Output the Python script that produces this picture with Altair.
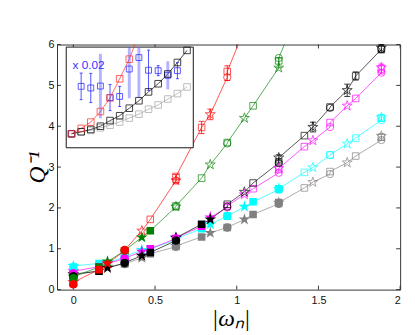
import altair as alt
import pandas as pd
import numpy as np

# ---------------- main panel data ----------------
# Matsubara frequencies for three temperatures (squares, stars, circles)
X_SQ = [0.0, 0.157, 0.314, 0.471, 0.628, 0.785, 0.942, 1.100, 1.257, 1.414, 1.571, 1.728, 1.885]
X_ST = [0.0, 0.209, 0.419, 0.628, 0.838, 1.047, 1.257, 1.466, 1.676, 1.885]
X_CI = [0.0, 0.314, 0.628, 0.942, 1.257, 1.571, 1.885]

SERIES = ["gray", "cyan", "magenta", "black", "green", "red"]          # drawing order
COLORS = ["#808080", "#00ffff", "#ff00ff", "#000000", "#008000", "#ff0000"]
FILLED_BELOW = [1.3, 1.3, 0.9, 0.9, 0.5, 0.35]                          # filled markers below this |w_n|

GRAY_SQ = [0.33, 0.47, 0.63, 0.88, 1.07, 1.29, 1.52, 1.84, 2.13, 2.49, 2.89, 3.27, 3.73]
GRAY_ST = [0.35, 0.56, 0.78, 1.07, 1.39, 1.72, 2.13, 2.63, 3.11, 3.76]
GRAY_CI = [0.30, 0.63, 1.05, 1.52, 2.10, 2.83, 3.66]

CYAN_SQ = [0.55, 0.64, 0.80, 1.00, 1.22, 1.49, 1.80, 2.15, 2.47, 2.87, 3.30, 3.71, 4.20]
CYAN_ST = [0.58, 0.66, 0.97, 1.25, 1.60, 2.03, 2.47, 2.99, 3.57, 4.22]
CYAN_CI = [0.52, 0.81, 1.22, 1.80, 2.45, 3.29, 4.15]

MAGENTA_SQ = [0.42, 0.56, 0.76, 1.00, 1.25, 1.55, 2.05, 2.47, 2.94, 3.50, 4.09, 4.68, 5.40]
MAGENTA_ST = [0.45, 0.64, 0.93, 1.27, 1.77, 2.33, 2.97, 3.65, 4.50, 5.44]
MAGENTA_CI = [0.40, 0.77, 1.25, 2.01, 2.86, 3.98, 5.31]

BLACK_SQ = [0.35, 0.45, 0.66, 0.91, 1.21, 1.60, 2.09, 2.61, 3.13, 3.77, 4.47, 5.23, 5.88]
BLACK_ST = [0.38, 0.53, 0.83, 1.27, 1.72, 2.39, 3.23, 3.98, 4.88, 5.92]
BLACK_CI = [0.33, 0.65, 1.20, 2.03, 3.10, 4.45, 5.90]

GREEN_SQ = [0.30, 0.55, 0.95, 1.44, 2.05, 2.73, 3.60, 4.50, 5.60, 7.20, None, None, None]
GREEN_ST = [0.32, 0.69, 1.28, 2.03, 3.06, 4.20, 5.43, None, None, None]
GREEN_CI = [0.28, 0.96, 2.03, 3.58, 5.67, None, None]

RED_SQ = [0.15, 0.49, 0.95, 1.72, 2.77, 3.97, 5.34, 6.90, None, None, None, None, None]
RED_ST = [0.18, 0.64, 1.44, 2.67, 4.29, None, None, None, None, None]
RED_CI = [0.13, 0.97, 2.67, 5.20, None, None, None]

# error bars on selected points
ERR_SERIES = ["red", "red", "red", "red", "green", "black", "black", "black", "black", "black", "magenta", "cyan", "gray"]
ERR_X = [0.628, 0.785, 0.838, 0.942, 1.257, 1.257, 1.466, 1.676, 1.728, 1.885, 1.885, 1.885, 1.885]
ERR_Y = [2.72, 3.97, 4.29, 5.30, 5.55, 3.20, 3.98, 4.88, 5.23, 5.90, 5.40, 4.20, 3.73]
ERR_E = [0.10, 0.15, 0.13, 0.18, 0.12, 0.10, 0.12, 0.15, 0.10, 0.10, 0.12, 0.08, 0.08]

X_TICKS = [0, 0.5, 1, 1.5, 2]
Y_TICKS = [0, 1, 2, 3, 4, 5, 6]

# ---------------- inset data ----------------
IN_X = list(range(13))
IN_BLACK = [1.39, 1.59, 1.82, 2.14, 2.70, 3.18, 3.93, 4.67, 5.55, 6.36, 7.33, 8.47, 9.67]
IN_GRAY = [1.39, 1.59, 1.72, 1.98, 2.24, 2.56, 2.95, 3.34, 3.83, 4.25, 4.84, 5.38, 6.04]
IN_RED = [1.39, 1.92, 2.55, 3.60, 4.95, 6.85, 8.80, 11.3]

B1_X = [0, 1, 2, 4, 5, 8, 9, 11]
B1_Y = [1.39, 6.10, 5.94, 4.99, 5.10, 7.70, 7.66, 7.66]
B1_E = [0.0, 1.32, 1.45, 1.30, 1.00, 2.00, 0.50, 0.80]
B2_X = [3, 6, 7, 10]
B2_Y = [6.13, 7.82, 8.96, 7.20]
B2_E = [3.20, 2.90, 4.00, 1.40]
INSET_NOTE = "x 0.02"

STAR = ("M0,-1L0.225,-0.309L0.951,-0.309L0.363,0.118L0.588,0.809L0,0.382"
        "L-0.588,0.809L-0.363,0.118L-0.951,-0.309L-0.225,-0.309Z")

# ---------------- build tables ----------------
lists = {
    "gray": (GRAY_SQ, GRAY_ST, GRAY_CI),
    "cyan": (CYAN_SQ, CYAN_ST, CYAN_CI),
    "magenta": (MAGENTA_SQ, MAGENTA_ST, MAGENTA_CI),
    "black": (BLACK_SQ, BLACK_ST, BLACK_CI),
    "green": (GREEN_SQ, GREEN_ST, GREEN_CI),
    "red": (RED_SQ, RED_ST, RED_CI),
}
rows = []
for s, cut in zip(SERIES, FILLED_BELOW):
    for shape, xs, ys in zip(["sq", "st", "ci"], [X_SQ, X_ST, X_CI], lists[s]):
        for xv, yv in zip(xs, ys):
            if yv is None:
                continue
            rows.append({"series": s, "shape": shape, "x": xv, "y": yv, "filled": bool(xv < cut)})
df = pd.DataFrame(rows)
df = df.sort_values(["series", "x", "y"]).reset_index(drop=True)
df["ord"] = np.arange(len(df))
order_map = {s: i for i, s in enumerate(SERIES)}
df["z"] = df["series"].map(order_map)
df = df.sort_values(["z", "x"]).reset_index(drop=True)

err = pd.DataFrame({"series": ERR_SERIES, "x": ERR_X, "y": ERR_Y, "e": ERR_E})
err["lo"] = err["y"] - err["e"]
err["hi"] = err["y"] + err["e"]
caps = pd.concat([err.assign(y=err["lo"]), err.assign(y=err["hi"])])

xt = pd.DataFrame({"x": X_TICKS})
yt = pd.DataFrame({"y": Y_TICKS})

W, H = 350, 250

XS = alt.Scale(domain=[-0.1, 2], nice=False, zero=False)
YS = alt.Scale(domain=[0, 6], nice=False, zero=False)
XAX = alt.Axis(values=X_TICKS, format="~g", ticks=False, domain=False, grid=False,
               labelFont="Liberation Sans", labelFontSize=11, labelColor="#111", labelPadding=5,
               title="|ωₙ|", titleFont="Liberation Serif", titleFontStyle="italic",
               titleFontSize=24, titleFontWeight="normal", titleColor="#000",
               titleX=W / 2 + 2, titleY=30, titleBaseline="middle")
YAX = alt.Axis(values=Y_TICKS, format="d", ticks=False, domain=False, grid=False,
               labelFont="Liberation Sans", labelFontSize=11, labelColor="#111", labelPadding=3,
               title="Q⁻¹", titleFont="Liberation Serif", titleFontStyle="italic",
               titleFontSize=24, titleFontWeight="normal", titleColor="#000",
               titleX=-20, titleY=H / 2, titleAngle=270, titleAlign="center", titleBaseline="middle")


def X(f="x"):
    return alt.X(f"{f}:Q", scale=XS, axis=XAX)


def Y(f="y"):
    return alt.Y(f"{f}:Q", scale=YS, axis=YAX)


COL = alt.Color("series:N", scale=alt.Scale(domain=SERIES, range=COLORS), legend=None)
SHAPES = {"sq": "square", "st": STAR, "ci": "circle"}
OPEN_SIZE = {"sq": 45, "st": 115, "ci": 55}
FILL_SIZE = {"sq": 60, "st": 160, "ci": 75}

lines = alt.Chart(df).mark_line(strokeWidth=0.9, opacity=0.75, clip=True).encode(
    x=X(), y=Y(), color=COL, detail="series:N", order=alt.Order("ord:Q"))

open_layers = []
fill_layers = []
for key, shp in SHAPES.items():
    open_layers.append(
        alt.Chart(df).transform_filter(f"!datum.filled && datum.shape == '{key}'").mark_point(
            shape=shp, filled=False, strokeWidth=1, opacity=0.7, size=OPEN_SIZE[key], clip=True
        ).encode(x=X(), y=Y(), color=COL))
    fill_layers.append(
        alt.Chart(df).transform_filter(f"datum.filled && datum.shape == '{key}'").mark_point(
            shape=shp, filled=True, opacity=1, size=FILL_SIZE[key], clip=True
        ).encode(x=X(), y=Y(), color=COL))

err_rules = alt.Chart(err).mark_rule(strokeWidth=1, opacity=0.8).encode(
    x=X(), y=Y("lo"), y2="hi:Q", color=COL)
err_caps = alt.Chart(caps).mark_tick(orient="horizontal", size=6, thickness=1, opacity=0.8).encode(
    x=X(), y=Y(), color=COL)

tick_b = alt.Chart(xt).mark_rule(color="#333").encode(x=X(), y=alt.value(H), y2=alt.value(H - 4))
tick_t = alt.Chart(xt).mark_rule(color="#333").encode(x=X(), y=alt.value(0), y2=alt.value(4))
tick_l = alt.Chart(yt).mark_rule(color="#333").encode(y=Y(), x=alt.value(0), x2=alt.value(4))
tick_r = alt.Chart(yt).mark_rule(color="#333").encode(y=Y(), x=alt.value(W), x2=alt.value(W - 4))

main = alt.layer(tick_b, tick_t, tick_l, tick_r, lines, *open_layers, *fill_layers, err_rules, err_caps)

# ---------------- inset ----------------
IX0, IX1, IY0, IY1 = 9.4, 139.0, 2.6, 105.3
IXS = alt.Scale(domain=[-0.55, 12.65], range=[IX0, IX1], nice=False, zero=False)
IYS = alt.Scale(domain=[0, 10], range=[IY1, IY0], nice=False, zero=False)

ins_rows = []
for name, ys in [("gray", IN_GRAY), ("black", IN_BLACK), ("red", IN_RED)]:
    for xv, yv in zip(IN_X, ys):
        ins_rows.append({"s": name, "ix": xv, "iy": yv})
ins = pd.DataFrame(ins_rows)
ICOL = alt.Color("s:N", scale=alt.Scale(domain=["gray", "black", "red"], range=["#a6a6a6", "#000000", "#ff3030"]), legend=None)

IX = alt.X("ix:Q", scale=IXS, axis=None)
IY = alt.Y("iy:Q", scale=IYS, axis=None)

frame = alt.Chart(pd.DataFrame({"a": [0]})).mark_rect(fill="white", stroke="#111", strokeWidth=1).encode(
    x=alt.value(IX0), x2=alt.value(IX1), y=alt.value(IY0), y2=alt.value(IY1))

ins_lines = alt.Chart(ins).mark_line(strokeWidth=0.9, opacity=0.8, clip=True).encode(
    x=IX, y=IY, color=ICOL, detail="s:N")
ins_pts = alt.Chart(ins).transform_filter("datum.iy <= 10").mark_point(
    shape="square", filled=False, size=45, strokeWidth=1, opacity=0.75).encode(x=IX, y=IY, color=ICOL)

b1 = pd.DataFrame({"ix": B1_X, "iy": B1_Y, "e": B1_E})
b1["lo"] = b1["iy"] - b1["e"]
b1["hi"] = np.minimum(10, b1["iy"] + b1["e"])
b2 = pd.DataFrame({"ix": B2_X, "iy": B2_Y, "e": B2_E})
b2["lo"] = b2["iy"] - b2["e"]
b2["hi"] = np.minimum(10, b2["iy"] + b2["e"])
b1caps = pd.concat([b1.assign(iy=b1["lo"]), b1.assign(iy=b1["hi"])])
b1caps = b1caps[b1caps["e"] > 0]

b2_rules = alt.Chart(b2).mark_rule(strokeWidth=3, color="#5a5aff", opacity=0.45).encode(
    x=IX, y=alt.Y("lo:Q", scale=IYS, axis=None), y2="hi:Q")
b1_rules = alt.Chart(b1).mark_rule(strokeWidth=1, color="#2f2fff", opacity=0.85).encode(
    x=IX, y=alt.Y("lo:Q", scale=IYS, axis=None), y2="hi:Q")
b1_caps = alt.Chart(b1caps).mark_tick(orient="horizontal", size=3, thickness=1, color="#2f2fff", opacity=0.85).encode(
    x=IX, y=IY)
b_pts = alt.Chart(pd.concat([b1, b2])).mark_point(
    shape="square", filled=False, size=36, strokeWidth=1, color="#2f2fff", opacity=0.8).encode(x=IX, y=IY)

note = alt.Chart(pd.DataFrame({"ix": [0.1], "iy": [8.2], "t": [INSET_NOTE]})).mark_text(
    align="left", baseline="middle", font="Liberation Sans", fontSize=12, color="#3333ff").encode(
    x=IX, y=IY, text="t:N")

inset = alt.layer(frame, ins_lines, b2_rules, b1_rules, b1_caps, b_pts, ins_pts, note)

chart = alt.layer(main, inset).resolve_scale(
    x="independent", y="independent", color="independent"
).properties(
    width=W, height=H, autosize="none",
    padding={"left": 50, "top": 34, "right": 7, "bottom": 42},
).configure_view(stroke="#333", strokeWidth=1)

chart.save("out.html", embed_options={"renderer": "svg", "actions": False})
